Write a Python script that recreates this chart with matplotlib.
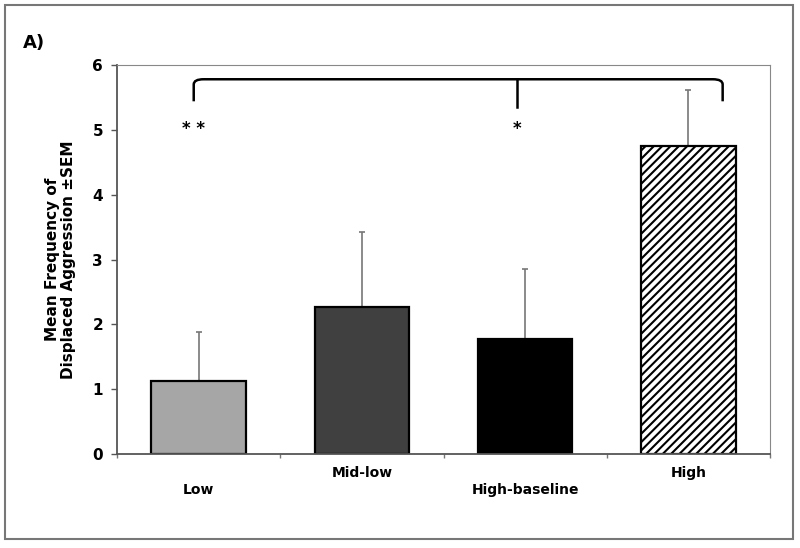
import matplotlib.pyplot as plt
import numpy as np
from matplotlib.path import Path
from matplotlib.patches import PathPatch, Rectangle

plt.rcParams['font.family'] = 'DejaVu Sans'
plt.rcParams['font.weight'] = 'bold'
plt.rcParams['hatch.linewidth'] = 1.5

grupos = ['Low', 'Mid-low', 'High-baseline', 'High']
medias = [1.12, 2.26, 1.77, 4.75]
sem = [0.76, 1.17, 1.09, 0.87]
colores = ['#a6a6a6', '#404040', '#000000', 'white']
tramas = ['', '', '', '////']
estrellas = ['**', '', '*', '']

fig = plt.figure(figsize=(8, 5.48), dpi=100)
ax = fig.add_axes([117/800, 1 - 454/548, (770-117)/800, (454-65)/548])

x = np.arange(len(grupos))
for i in range(len(grupos)):
    ax.bar(x[i], medias[i], width=0.58, color=colores[i], edgecolor='black',
           linewidth=1.6, hatch=tramas[i], zorder=2)
    ax.errorbar(x[i], medias[i], yerr=[[0], [sem[i]]], color='#777777',
                elinewidth=1.2, capsize=2.5, capthick=1.2, zorder=1)

ax.set_xlim(-0.5, 3.5)
ax.set_ylim(0, 6)
ax.set_yticks(range(0, 7))
ax.tick_params(axis='y', labelsize=11, length=4, width=1, color='#555555', pad=6)
ax.set_xticks(np.arange(-0.5, 4, 1))
ax.set_xticklabels([])
ax.tick_params(axis='x', length=3, width=1, color='#777777', direction='out')
for lbl in ax.get_yticklabels():
    lbl.set_fontweight('bold')

ax.spines['left'].set_color('#555555')
ax.spines['bottom'].set_color('#555555')
ax.spines['left'].set_linewidth(1.3)
ax.spines['bottom'].set_linewidth(1.3)
ax.spines['top'].set_color('#888888')
ax.spines['right'].set_color('#888888')

# etiquetas escalonadas
for i, g in enumerate(grupos):
    yy = -0.55 if i % 2 == 0 else -0.29
    ax.text(x[i], yy, g, ha='center', va='center', fontsize=10, fontweight='bold',
            clip_on=False)

ax.set_ylabel('Mean Frequency of\nDisplaced Aggression ±SEM', fontsize=11,
              fontweight='bold', labelpad=12, linespacing=1.05)

# corchete de significancia
yb = 5.78
r = 0.06
verts = [(-0.03, 5.44), (-0.03, yb - 0.08), (-0.03, yb), (-0.03 + r, yb),
         (3.21 - r, yb), (3.21, yb), (3.21, yb - 0.08), (3.21, 5.44)]
codes = [Path.MOVETO, Path.LINETO, Path.CURVE3, Path.CURVE3,
         Path.LINETO, Path.CURVE3, Path.CURVE3, Path.LINETO]
ax.add_patch(PathPatch(Path(verts, codes), fill=False, lw=1.8, edgecolor='black',
                       clip_on=False))
ax.plot([1.95, 1.95], [yb, 5.35], color='black', lw=1.8)

for i, s in enumerate(estrellas):
    if s:
        xs = -0.03 if i == 0 else 1.95
        ax.text(xs, 5.02, ' '.join(s), ha='center', va='center', fontsize=12,
                fontweight='bold')

fig.text(23/800, 1 - 43/548, 'A)', fontsize=13, fontweight='bold', ha='left', va='center')

fig.patches.append(Rectangle((5/800, 1 - 539/548), (793-5)/800, (539-5)/548,
                             transform=fig.transFigure, fill=False,
                             edgecolor='#777777', linewidth=1.5))

fig.savefig('out.png', dpi=100)
